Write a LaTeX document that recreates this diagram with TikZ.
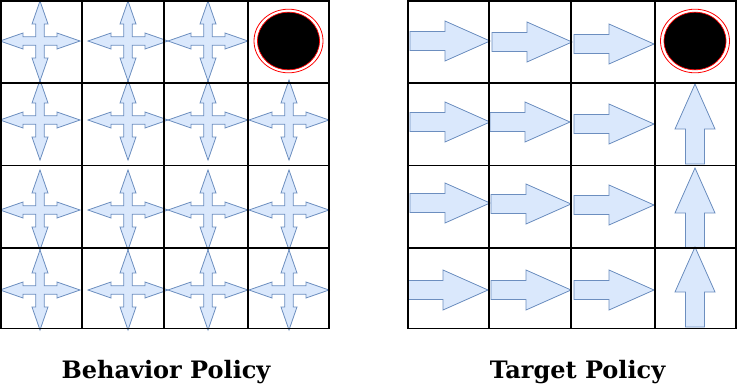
\documentclass[tikz,border=0pt]{standalone}
\usepackage{fontspec}
\newfontfamily\labelfont{DejaVu Serif}
\definecolor{afill}{HTML}{DAE8FC}
\definecolor{aline}{HTML}{6C8EBF}
\tikzset{
  arr/.style={fill=afill,draw=aline,line width=0.8pt,line join=miter},
  gridline/.style={line width=1.3pt,black},
  lbl/.style={font=\labelfont\bfseries\fontsize{24}{28}\selectfont,anchor=base},
  pics/quad/.style={code={
    \path[arr] (40,0)--(17,8)--(17,4.3)--(4.3,4.3)--(4.3,17)--(8,17)--(0,40)--(-8,17)--(-4.3,17)--(-4.3,4.3)
      --(-17,4.3)--(-17,8)--(-40,0)--(-17,-8)--(-17,-4.3)--(-4.3,-4.3)--(-4.3,-17)--(-8,-17)--(0,-40)
      --(8,-17)--(4.3,-17)--(4.3,-4.3)--(17,-4.3)--(17,-8)--cycle;}},
  pics/rarrow/.style={code={
    \path[arr] (0,-9.5)--(35,-9.5)--(35,-20)--(80,0)--(35,20)--(35,9.5)--(0,9.5)--cycle;}},
}
\begin{document}
\begin{tikzpicture}[x=1pt,y=-1pt]
\useasboundingbox (0,0) rectangle (738,391);
% behavior policy arrows
\foreach \cx in {40,128,208,289}{
  \foreach \cy in {120,210,290}{ \pic at (\cx,\cy) {quad}; }
}
\foreach \cx in {40,128,208}{ \pic at (\cx,41) {quad}; }
% target policy arrows
\pic at (410,41) {rarrow};
\pic at (492,42) {rarrow};
\pic at (574,44) {rarrow};
\pic at (410,122) {rarrow};
\pic at (490,122) {rarrow};
\pic at (574,124) {rarrow};
\pic at (410,203) {rarrow};
\pic at (491,204) {rarrow};
\pic at (574,205) {rarrow};
\pic at (408,290) {rarrow};
\pic at (491,290) {rarrow};
\pic at (574,290) {rarrow};
\pic[rotate=90] at (695,164) {rarrow};
\pic[rotate=90] at (695,248) {rarrow};
\pic[rotate=90] at (695,327) {rarrow};
% goals
\foreach \gx in {288.5,695}{
  \draw[red,line width=0.8pt] (\gx,41) ellipse [x radius=34.5,y radius=31.8];
  \filldraw[fill=black,draw=red,line width=0.7pt] (\gx,41) ellipse [x radius=31,y radius=28.8];
}
% grids
\foreach \x in {1,82,164,248,329}{ \draw[gridline] (\x,0.5)--(\x,329.2); }
\foreach \y in {1,83,165.5,248,328.5}{ \draw[gridline] (0.3,\y)--(329.6,\y); }
\foreach \x in {408,489,571,655,736}{ \draw[gridline] (\x,0.5)--(\x,329.2); }
\foreach \y in {1,83,165.5,248,328.5}{ \draw[gridline] (407.3,\y)--(736.6,\y); }
% labels
\node[lbl] (beh) at (166,378) {Behavior Policy};
\node[lbl] (tgt) at (577.5,378) {Target Policy};
\end{tikzpicture}
\end{document}
